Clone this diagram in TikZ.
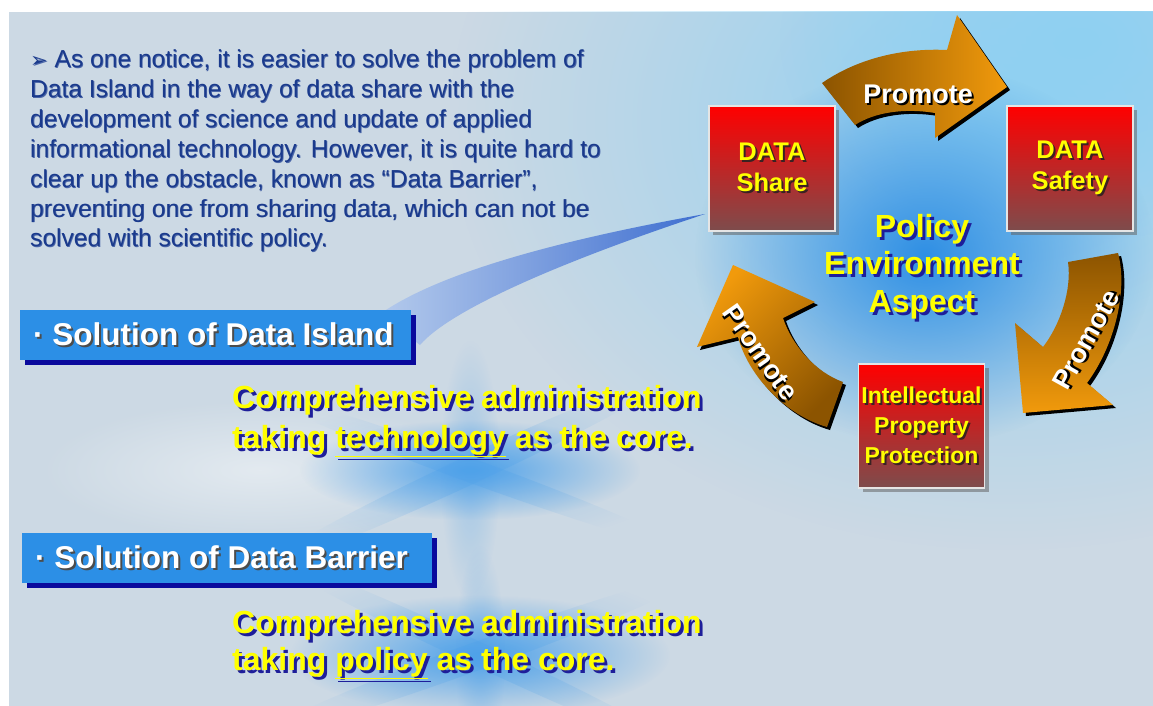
\documentclass[tikz,border=0pt]{standalone}
\usepackage{fontspec}
\setmainfont{Liberation Sans}
\newfontfamily\dvfont{DejaVu Sans}
\usetikzlibrary{fadings,shadows}
\tikzfading[name=glowfade, inner color=transparent!0, outer color=transparent!100]
\definecolor{bgbase}{HTML}{CCD9E4}
\definecolor{skyblue}{HTML}{8FD0F2}
\definecolor{midblue}{HTML}{2F8FE4}
\definecolor{starblue}{HTML}{4FA2EA}
\definecolor{swooshA}{HTML}{3E6ED0}
\definecolor{swooshB}{HTML}{B4CAEC}
\definecolor{boxtop}{HTML}{FF0000}
\definecolor{boxbot}{HTML}{7D4C4C}
\definecolor{ytext}{HTML}{FFFF00}
\definecolor{yshadow}{HTML}{1E1E9A}
\definecolor{bshadow}{HTML}{3A2222}
\definecolor{solblue}{HTML}{2C8FE6}
\definecolor{navy}{HTML}{0A0A9C}
\definecolor{arrdark}{HTML}{8C5400}
\definecolor{arrlight}{HTML}{F19A0C}
\definecolor{ptext}{HTML}{1A3A8C}
\definecolor{pshadow}{HTML}{4A66A8}
\newcommand\shtxt[3]{\leavevmode\rlap{\hspace*{#1}\raisebox{-#1}{\color{#2}#3}}#3}
\def\arrA{(822,83) .. controls (860,57) and (905,48) .. (947,50) -- (957,15) -- (1007,87) -- (935,138) -- (935,113) .. controls (905,108) and (875,112) .. (855,125) -- cycle}
\def\arrB{(1068,262) -- (1118,253) .. controls (1128,290) and (1115,345) .. (1087,383) -- (1113,405) -- (1023,413) -- (1015,323) -- (1043,347) .. controls (1060,325) and (1072,290) .. (1068,262) -- cycle}
\def\arrC{(827,427) -- (843,382) .. controls (815,372) and (792,345) .. (783,318) -- (815,302) -- (733,265) -- (697,347) -- (738,337) .. controls (748,375) and (785,415) .. (827,427) -- cycle}
\begin{document}
\begin{tikzpicture}[x=1pt,y=-1pt,
  redbox/.style={draw=white!80!gray, line width=1.2pt, top color=boxtop, bottom color=boxbot,
    minimum width=126pt, minimum height=125pt, inner sep=0pt,
    drop shadow={shadow xshift=4pt, shadow yshift=-4pt, fill=black!60, opacity=.55},
    font=\bfseries\fontsize{25.5}{31}\selectfont, text=ytext, align=center},
  solbox/.style={fill=solblue, minimum height=50pt, inner ysep=0pt, inner xsep=0pt, anchor=west,
    text=white, font=\bfseries\fontsize{31.5}{36}\selectfont,
    drop shadow={shadow xshift=5pt, shadow yshift=-5pt, fill=navy, opacity=1}},
  ytxt/.style={anchor=base west, inner sep=0pt, text=ytext, font=\bfseries\fontsize{32}{40}\selectfont},
  ptxt/.style={anchor=base west, inner sep=0pt, text=ptext, font=\fontsize{24.6}{30}\selectfont},
  pol/.style={inner sep=0pt, text=ytext, align=center, font=\bfseries\fontsize{32}{37.5}\selectfont},
  promote/.style={inner sep=0pt, text=white, font=\bfseries\fontsize{27}{30}\selectfont},
  arrowshadow/.style={fill=black, shift={(3,3)}},
  ray/.style={starblue, opacity=.35, path fading=glowfade}
]
\useasboundingbox (0,0) rectangle (1153,706);
\fill[white] (0,0) rectangle (1153,706);
% background
\begin{scope}
\clip (9,12) rectangle (1153,706);
\fill[bgbase] (9,12) rectangle (1153,706);
\fill[skyblue, path fading=glowfade] (1010,120) ellipse [x radius=560, y radius=430];
\fill[skyblue, path fading=glowfade] (1080,40) ellipse [x radius=300, y radius=200];
\fill[midblue, path fading=glowfade] (925,255) ellipse [x radius=230, y radius=190];
\fill[white, opacity=.45, path fading=glowfade] (260,470) ellipse [x radius=220, y radius=70];
\fill[starblue, path fading=glowfade] (470,470) ellipse [x radius=170, y radius=50];
\fill[starblue, path fading=glowfade] (480,655) ellipse [x radius=190, y radius=60];
\fill[ray] (470,470) ellipse [x radius=30, y radius=130];
\fill[ray, rotate around={25:(470,470)}] (470,470) ellipse [x radius=220, y radius=14];
\fill[ray, rotate around={-20:(470,470)}] (470,470) ellipse [x radius=220, y radius=12];
\fill[ray, rotate around={20:(480,655)}] (480,655) ellipse [x radius=230, y radius=14];
\fill[ray, rotate around={-25:(480,655)}] (480,655) ellipse [x radius=230, y radius=12];
\fill[ray] (480,655) ellipse [x radius=25, y radius=110];
% swoosh
\shade[left color=swooshB, right color=swooshA] (705,214) .. controls (560,240) and (440,272) .. (380,314) -- (420,345) .. controls (450,310) and (560,262) .. (705,214) -- cycle;
\end{scope}
% paragraph
\foreach \t [count=\i] in {{{\dvfont\fontsize{21}{24}\selectfont ➢} As one notice, it is easier to solve the problem of},
  {Data Island in the way of data share with the},
  {development of science and update of applied},
  {informational technology. However, it is quite hard to},
  {clear up the obstacle, known as “Data Barrier”,},
  {preventing one from sharing data, which can not be},
  {solved with scientific policy.}}
  \node[ptxt] (p\i) at (30,68+29.8*\i-29.8) {\shtxt{0.8pt}{pshadow}{\t}};
% solution boxes
\node[solbox, minimum width=391pt] (island) at (20,335) {\makebox[391pt][l]{\hspace*{13pt}\shtxt{2pt}{black!70}{· Solution of Data Island}}};
\node[solbox, minimum width=410pt] (barrier) at (22,558) {\makebox[410pt][l]{\hspace*{13pt}\shtxt{2pt}{black!70}{· Solution of Data Barrier}}};
% yellow statements
\node[ytxt] (c1a) at (232,408) {\shtxt{3pt}{yshadow}{Comprehensive administration}};
\node[ytxt] (c1b) at (232,448) {\shtxt{3pt}{yshadow}{taking \underline{technology} as the core.}};
\node[ytxt] (c2a) at (232,633) {\shtxt{3pt}{yshadow}{Comprehensive administration}};
\node[ytxt] (c2b) at (232,670) {\shtxt{3pt}{yshadow}{taking \underline{policy} as the core.}};
% red boxes
\node[redbox] (share) at (772,168.5) {\shtxt{2pt}{bshadow}{DATA}\\\shtxt{2pt}{bshadow}{Share}};
\node[redbox] (safety) at (1070,168.5) {\shtxt{2pt}{bshadow}{DATA}\\\shtxt{2pt}{bshadow}{Safety}};
\node[redbox, minimum height=124pt, font=\bfseries\fontsize{23}{30}\selectfont] (ipp) at (921.5,426) {\shtxt{2pt}{bshadow}{Intellectual}\\\shtxt{2pt}{bshadow}{Property}\\\shtxt{2pt}{bshadow}{Protection}};
% centre label
\node[pol] (policy) at (922,268) {\shtxt{3pt}{yshadow}{Policy}\\\shtxt{3pt}{yshadow}{Environment}\\\shtxt{3pt}{yshadow}{Aspect}};
% arrows
\fill[arrowshadow] \arrA;
\shade[left color=arrdark, right color=arrlight] \arrA;
\fill[arrowshadow] \arrB;
\shade[top color=arrdark, bottom color=arrlight] \arrB;
\fill[arrowshadow] \arrC;
\shade[top color=arrlight, bottom color=arrdark, shading angle=45] \arrC;
\node[promote] (prA) at (918,95) {\shtxt{2pt}{black}{Promote}};
\node[promote, rotate=61] (prB) at (1087,340) {\shtxt{2pt}{black}{Promote}};
\node[promote, rotate=-55] (prC) at (760,353) {\shtxt{2pt}{black}{Promote}};
\end{tikzpicture}
\end{document}
